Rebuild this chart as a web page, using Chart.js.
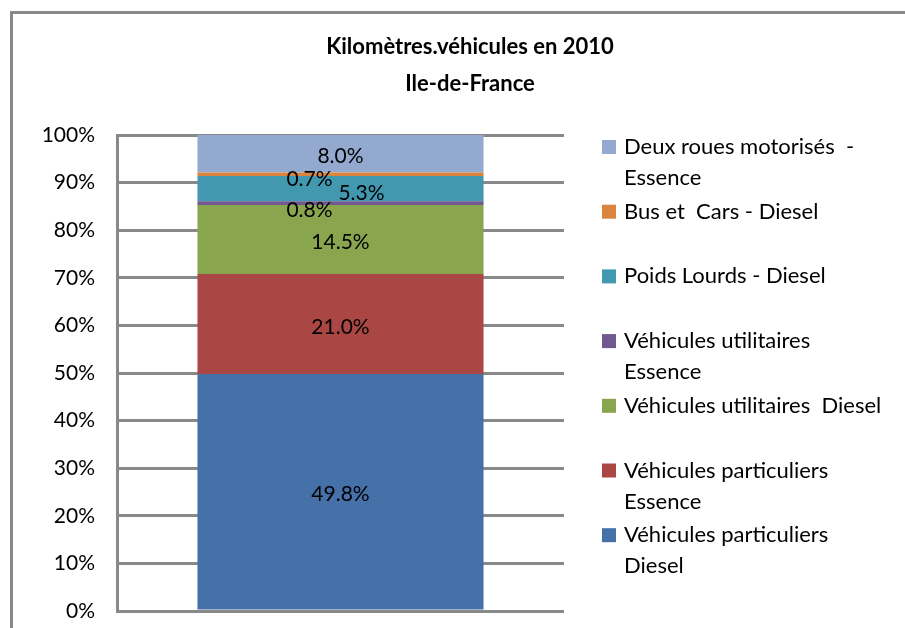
<!DOCTYPE html>
<html>
<head>
<meta charset="utf-8">
<script src="https://cdn.jsdelivr.net/npm/chart.js@4.4.1/dist/chart.umd.min.js"></script>
<style>
    html, body { margin: 0; padding: 0; background: #fff; overflow: hidden; }
    #frame { position: absolute; left: 10px; top: 11px; width: 1000px; height: 700px; border: 3px solid #898989; box-sizing: border-box; }
    #wrap { position: absolute; left: 0; top: 0; width: 905px; height: 628px; }
</style>
</head>
<body>
<div id="frame"></div>
<div id="wrap"><canvas id="chart"></canvas></div>
<script>
// Data (bottom to top of the stack)
const titleLines = ['Kilomètres.véhicules en 2010', 'Ile-de-France'];
const categories = ['2010'];
const seriesNames = [
    'Véhicules particuliers\nDiesel',
    'Véhicules particuliers\nEssence',
    'Véhicules utilitaires  Diesel',
    'Véhicules utilitaires\nEssence',
    'Poids Lourds - Diesel',
    'Bus et  Cars - Diesel',
    'Deux roues motorisés  -\nEssence'
];
const seriesValues = [49.8, 21.0, 14.5, 0.8, 5.3, 0.7, 8.0];
const seriesColors = ['#4570a8', '#aa4744', '#89a54e', '#71588f', '#4198af', '#db843d', '#93a9cf'];
const yTicks = [0, 10, 20, 30, 40, 50, 60, 70, 80, 90, 100];

// label nudges (px), the thin slices are pushed aside like Excel does
const labelOffsets = [[0, 3], [0, 3], [0, 3], [-31, 7], [21, 5], [-31, 5], [0, 3]];

const FONT = "Lato, 'Open Sans', sans-serif";

// Data labels + title + legend drawn on the canvas
const excelDecor = {
    id: 'excelDecor',
    afterDatasetsDraw(chart) {
        const ctx = chart.ctx;
        ctx.save();
        ctx.fillStyle = '#000';
        ctx.font = `21px ${FONT}`;
        ctx.textAlign = 'center';
        ctx.textBaseline = 'middle';
        chart.data.datasets.forEach((ds, i) => {
            const bar = chart.getDatasetMeta(i).data[0];
            const cy = (bar.y + bar.base) / 2;
            const [dx, dy] = labelOffsets[i];
            ctx.fillText(ds.data[0].toFixed(1) + '%', bar.x + dx, cy + dy);
        });
        ctx.restore();
    },
    afterDraw(chart) {
        const ctx = chart.ctx;
        ctx.save();
        // title
        ctx.fillStyle = '#000';
        ctx.font = `bold 22px ${FONT}`;
        ctx.textAlign = 'center';
        ctx.textBaseline = 'middle';
        titleLines.forEach((t, i) => ctx.fillText(t, 470, 47 + i * 37));

        // legend, top entry first
        ctx.font = `22px ${FONT}`;
        ctx.textAlign = 'left';
        const n = seriesNames.length;
        for (let k = 0; k < n; k++) {
            const i = n - 1 - k;
            const y = 147 + k * 64.7;
            ctx.fillStyle = seriesColors[i];
            ctx.fillRect(602, y - 7, 14, 14);
            ctx.fillStyle = '#000';
            seriesNames[i].split('\n').forEach((line, j) => ctx.fillText(line, 624, y + j * 31));
        }
        ctx.restore();
    }
};

const datasets = seriesNames.map((name, i) => ({
    label: name.replace('\n', ' '),
    data: [seriesValues[i]],
    backgroundColor: seriesColors[i],
    borderWidth: 0,
    categoryPercentage: 1,
    barPercentage: 0.64
}));

new Chart(document.getElementById('chart'), {
    type: 'bar',
    data: { labels: categories, datasets },
    options: {
        responsive: true,
        maintainAspectRatio: false,
        animation: false,
        layout: { padding: { top: 135, left: 0, right: 341, bottom: 17 } },
        plugins: {
            legend: { display: false },
            title: { display: false },
            tooltip: { enabled: false }
        },
        scales: {
            x: { stacked: true, display: false },
            y: {
                stacked: true,
                min: 0,
                max: 100,
                afterBuildTicks: (axis) => { axis.ticks = yTicks.map(v => ({ value: v })); },
                afterFit: (axis) => { axis.width = 117; },
                ticks: {
                    color: '#000',
                    padding: 0,
                    font: { family: FONT, size: 21 },
                    callback: (v) => v + '%'
                },
                // invisible tick marks give the 22px gap between labels and axis
                grid: { color: '#898989', lineWidth: 3, drawTicks: true, tickLength: 22, tickColor: 'rgba(0,0,0,0)' },
                border: { color: '#898989', width: 3 }
            }
        }
    },
    plugins: [excelDecor]
});
</script>
</body>
</html>
